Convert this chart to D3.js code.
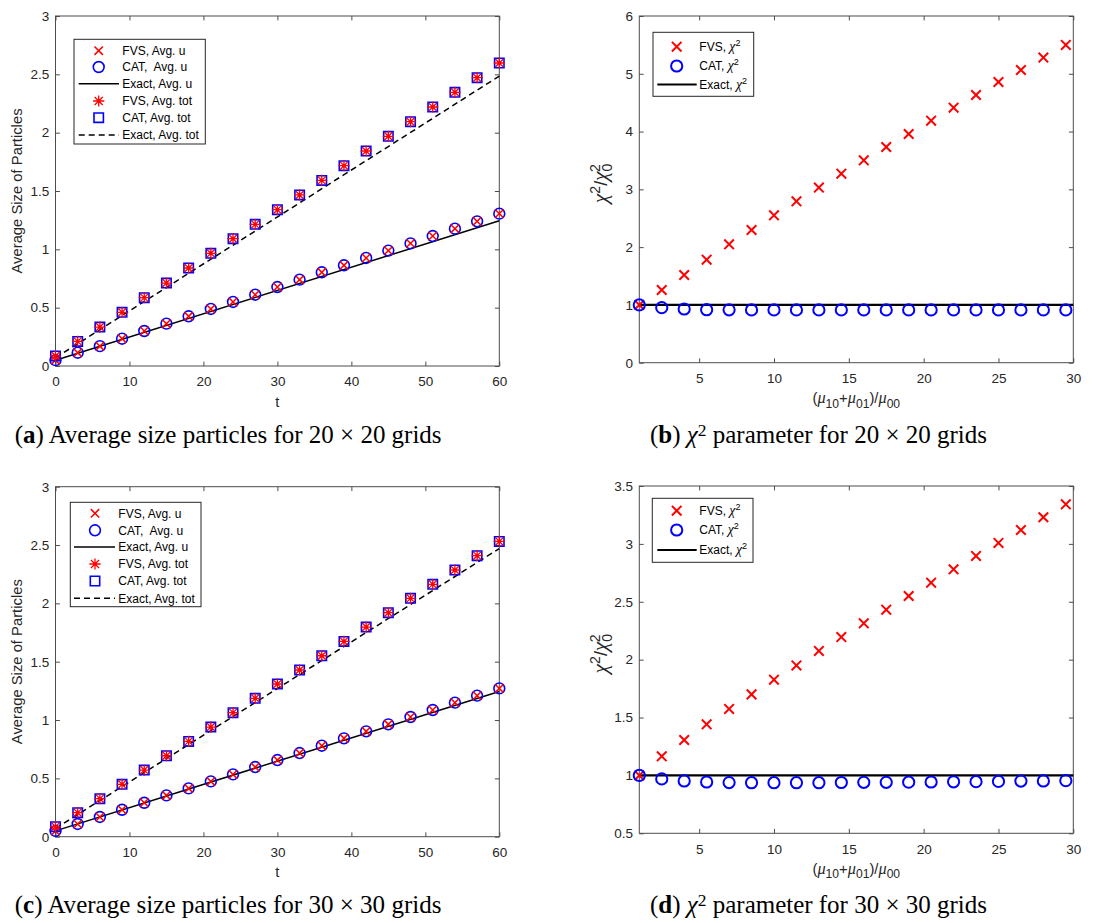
<!DOCTYPE html>
<html><head><meta charset="utf-8">
<script src="https://cdn.jsdelivr.net/npm/d3@7"></script>
<style>
body{margin:0;background:#fff}
svg{display:block;font-family:"Liberation Sans",Arial,Helvetica,sans-serif}
</style>
</head><body>
<svg id="chart" width="1094" height="923"></svg>
<script>
// ---------------- DATA ----------------
const tValues = [0,3,6,9,12,15,18,21,24,27,30,33,36,39,42,45,48,51,54,57,60];
const fvsU20  = [0.05,0.114,0.17,0.234,0.30,0.363,0.426,0.489,0.549,0.611,0.677,0.74,0.803,0.863,0.926,0.989,1.051,1.114,1.177,1.24,1.306];
const catU20  = [0.05,0.114,0.17,0.234,0.30,0.363,0.426,0.489,0.549,0.611,0.677,0.74,0.803,0.863,0.926,0.989,1.051,1.114,1.177,1.24,1.306];
const fvsTot20 = [0.086,0.211,0.334,0.46,0.586,0.711,0.84,0.966,1.091,1.214,1.34,1.466,1.591,1.717,1.843,1.969,2.094,2.22,2.346,2.471,2.597];
const catTot20 = [0.086,0.211,0.334,0.46,0.586,0.711,0.84,0.966,1.091,1.214,1.34,1.466,1.591,1.717,1.843,1.969,2.094,2.22,2.346,2.471,2.597];
const fvsU30  = [0.049,0.109,0.169,0.231,0.291,0.354,0.414,0.474,0.534,0.597,0.657,0.717,0.78,0.843,0.903,0.963,1.026,1.086,1.149,1.209,1.271];
const catU30  = [0.049,0.109,0.169,0.231,0.291,0.354,0.414,0.474,0.534,0.597,0.657,0.717,0.78,0.843,0.903,0.963,1.026,1.086,1.149,1.209,1.271];
const fvsTot30 = [0.086,0.206,0.326,0.449,0.571,0.694,0.817,0.94,1.063,1.186,1.309,1.429,1.551,1.674,1.797,1.92,2.043,2.163,2.286,2.409,2.531];
const catTot30 = [0.086,0.206,0.326,0.449,0.571,0.694,0.817,0.94,1.063,1.186,1.309,1.429,1.551,1.674,1.797,1.92,2.043,2.163,2.286,2.409,2.531];
const exactT = [0, 60];
const exactU20 = [0.05, 1.245];
const exactTot20 = [0.07, 2.485];
const exactU30 = [0.05, 1.245];
const exactTot30 = [0.07, 2.47];

const ratioValues = [1,2.5,4,5.5,7,8.5,10,11.5,13,14.5,16,17.5,19,20.5,22,23.5,25,26.5,28,29.5];
const fvsChi20 = [1.0,1.258,1.518,1.783,2.048,2.297,2.55,2.793,3.03,3.272,3.503,3.733,3.958,4.189,4.414,4.633,4.858,5.066,5.28,5.499];
const catChi20 = [1.0,0.952,0.929,0.917,0.915,0.914,0.914,0.914,0.914,0.914,0.914,0.914,0.914,0.914,0.914,0.914,0.914,0.914,0.914,0.914];
const fvsChi30 = [1.0,1.165,1.306,1.441,1.574,1.70,1.827,1.95,2.075,2.195,2.314,2.432,2.55,2.665,2.78,2.896,3.008,3.12,3.23,3.342];
const catChi30 = [1.0,0.97,0.952,0.943,0.938,0.937,0.937,0.937,0.937,0.939,0.94,0.94,0.942,0.943,0.945,0.946,0.948,0.951,0.952,0.955];
const exactRatio = [1, 30];
const exactChi = [1, 1];

const tTicks = [0,10,20,30,40,50,60];
const avgTicks = [0,0.5,1,1.5,2,2.5,3];
const ratioTicks = [5,10,15,20,25,30];
const chi20Ticks = [0,1,2,3,4,5,6];
const chi30Ticks = [0.5,1,1.5,2,2.5,3,3.5];

const avgLegend = ["FVS, Avg. u","CAT,  Avg. u","Exact, Avg. u","FVS, Avg. tot","CAT, Avg. tot","Exact, Avg. tot"];
const captionA = ["a","Average size particles for 20 \u00d7 20 grids"];
const captionC = ["c","Average size particles for 30 \u00d7 30 grids"];
const captionB = ["b","parameter for 20 \u00d7 20 grids"];
const captionD = ["d","parameter for 30 \u00d7 30 grids"];

// ---------------- DRAWING ----------------
const svg = d3.select("#chart");
const RED = "#ff0000", BLUE = "#0000ff", TXT = "#262626", AX = "#4d4d4d";
const TICKFS = 13.5, LABFS = 14.8, LEGFS = 12;
const SANS = '"Liberation Sans",Arial,Helvetica,sans-serif';
const SERIF = '"Liberation Serif","Times New Roman",serif';

function xPath(s){ return `M${-s},${-s}L${s},${s}M${-s},${s}L${s},${-s}`; }
function starPath(s){ const d=s*0.72; return `M${-s},0L${s},0M0,${-s}L0,${s}M${-d},${-d}L${d},${d}M${-d},${d}L${d},${-d}`; }
function sqPath(s){ return `M${-s},${-s}H${s}V${s}H${-s}Z`; }

function drawMarkers(g, xs, ys, x, y, type, color, size, sw){
  const pts = xs.map((v,i)=>[v, ys[i]]);
  const sel = g.append("g").selectAll(type==="circle"?"circle":"path").data(pts).join(type==="circle"?"circle":"path");
  if(type==="circle"){
    sel.attr("cx",d=>x(d[0])).attr("cy",d=>y(d[1])).attr("r",size).attr("fill","none").attr("stroke",color).attr("stroke-width",sw);
  } else {
    const p = type==="x"?xPath(size):type==="star"?starPath(size):sqPath(size);
    sel.attr("transform",d=>`translate(${x(d[0])},${y(d[1])})`).attr("d",p).attr("fill","none").attr("stroke",color).attr("stroke-width",sw);
  }
}
function drawLine(g, xs, ys, x, y, dash, sw){
  const pts = xs.map((v,i)=>[v, ys[i]]);
  g.append("path").datum(pts).attr("d", d3.line().x(d=>x(d[0])).y(d=>y(d[1])))
   .attr("fill","none").attr("stroke","#000").attr("stroke-width",sw).attr("stroke-dasharray",dash||null);
}

function frame(box, xDomain, yDomain, xTicks, yTicks){
  const g = svg.append("g");
  const x = d3.scaleLinear().domain(xDomain).range([box.left, box.right]);
  const y = d3.scaleLinear().domain(yDomain).range([box.bottom, box.top]);
  const tl = 4.4;
  const styleAxis = a => {
    a.select(".domain").remove();
    a.selectAll(".tick line").attr("stroke",AX);
    a.selectAll("text").attr("fill",TXT);
    a.attr("font-size",TICKFS).attr("font-family",SANS);
  };
  g.append("g").attr("transform",`translate(0,${box.bottom})`).call(d3.axisBottom(x).tickValues(xTicks).tickSize(-tl).tickPadding(10.9).tickFormat(d3.format(""))).call(styleAxis);
  g.append("g").attr("transform",`translate(0,${box.top})`).call(d3.axisTop(x).tickValues(xTicks).tickSize(-tl).tickFormat("")).call(styleAxis);
  g.append("g").attr("transform",`translate(${box.left},0)`).call(d3.axisLeft(y).tickValues(yTicks).tickSize(-tl).tickPadding(6.2).tickFormat(d3.format(""))).call(styleAxis);
  g.append("g").attr("transform",`translate(${box.right},0)`).call(d3.axisRight(y).tickValues(yTicks).tickSize(-tl).tickFormat("")).call(styleAxis);
  g.append("rect").attr("x",box.left).attr("y",box.top).attr("width",box.right-box.left).attr("height",box.bottom-box.top)
   .attr("fill","none").attr("stroke",AX).attr("stroke-width",1);
  const plot = svg.append("g");
  return {g, x, y, plot};
}

function avgPanel(box, fu, cu, eu, ft, ct, et, leg){
  const {g,x,y,plot} = frame(box,[0,60],[0,3],tTicks,avgTicks);
  drawLine(plot, exactT, eu, x, y, null, 1.5);
  drawLine(plot, exactT, et, x, y, "6,4", 1.5);
  drawMarkers(plot, tValues, cu, x, y, "circle", BLUE, 5.4, 1.6);
  drawMarkers(plot, tValues, fu, x, y, "x", RED, 4.2, 1.5);
  drawMarkers(plot, tValues, ct, x, y, "sq", BLUE, 4.7, 1.6);
  drawMarkers(plot, tValues, ft, x, y, "star", RED, 5.6, 1.3);
  svg.append("text").attr("x",(box.left+box.right)/2).attr("y",box.bottom+40.5).attr("text-anchor","middle")
    .attr("font-size",LABFS).attr("fill",TXT).text("t");
  svg.append("text").attr("transform",`translate(${box.left-33.5},${(box.top+box.bottom)/2}) rotate(-90)`).attr("text-anchor","middle")
    .attr("font-size",LABFS).attr("fill",TXT).text("Average Size of Particles");
  const L = svg.append("g");
  L.append("rect").attr("x",leg.x0).attr("y",leg.y0).attr("width",leg.x1-leg.x0).attr("height",leg.y1-leg.y0)
    .attr("fill","#fff").attr("stroke",TXT).attr("stroke-width",1);
  leg.rows.forEach((ry,i)=>{
    const mg = L.append("g").attr("transform",`translate(${leg.mx},${ry})`);
    if(i===0) mg.append("path").attr("d",xPath(4.2)).attr("stroke",RED).attr("stroke-width",1.5).attr("fill","none");
    if(i===1) mg.append("circle").attr("r",5.4).attr("stroke",BLUE).attr("stroke-width",1.6).attr("fill","none");
    if(i===3) mg.append("path").attr("d",starPath(5.6)).attr("stroke",RED).attr("stroke-width",1.3).attr("fill","none");
    if(i===4) mg.append("path").attr("d",sqPath(4.7)).attr("stroke",BLUE).attr("stroke-width",1.6).attr("fill","none");
    if(i===2||i===5) L.append("line").attr("x1",leg.l0).attr("x2",leg.l1).attr("y1",ry).attr("y2",ry)
        .attr("stroke","#000").attr("stroke-width",1.5).attr("stroke-dasharray",i===5?"6,4":null);
    L.append("text").attr("x",leg.tx).attr("y",ry+4.3).attr("font-size",LEGFS).attr("fill","#000")
      .style("white-space","pre").text(avgLegend[i]);
  });
}

function chiLabel(t, name){
  t.append("tspan").text(name+", ");
  t.append("tspan").style("font-family",SERIF).style("font-style","italic").attr("font-size","115%").text("\u03c7");
  t.append("tspan").attr("font-size","75%").attr("dy",-5).text("2");
}

function chiPanel(box, yDomain, yTicks, fv, cv, leg){
  const {g,x,y,plot} = frame(box,[1,30],yDomain,ratioTicks,yTicks);
  drawLine(plot, exactRatio, exactChi, x, y, null, 2.2);
  drawMarkers(plot, ratioValues, fv, x, y, "x", RED, 4.8, 2);
  drawMarkers(plot, ratioValues, cv, x, y, "circle", BLUE, 5.6, 2);
  const xl = svg.append("text").attr("x",(box.left+box.right)/2).attr("y",box.bottom+40.5).attr("text-anchor","middle")
    .attr("font-size",LABFS).attr("fill",TXT);
  const parts = [["(",0,false],["\u03bc",0,true],["10",1,false],["+",0,false],["\u03bc",0,true],["01",1,false],[")/",0,false],["\u03bc",0,true],["00",1,false]];
  let cur = 0;
  parts.forEach(([s,sub,greek])=>{
    const target = sub?4.5:0;
    const ts = xl.append("tspan").attr("dy",target-cur).text(s);
    if(sub) ts.attr("font-size","82%");
    if(greek) ts.style("font-family",SERIF).style("font-style","italic").attr("font-size","110%");
    cur = target;
  });
  const yl = svg.append("text").attr("transform",`translate(${box.left-32},${(box.top+box.bottom)/2-6}) rotate(-90)`).attr("text-anchor","middle")
    .attr("font-size",16).attr("fill",TXT);
  const yp = [["\u03c7",0,true],["2",-7,false],["/",0,false],["\u03c7",0,true],["0",4.5,false],["2",-7,false]];
  let c2 = 0;
  yp.forEach(([s,off,greek],i)=>{
    const ts = yl.append("tspan").attr("dy",off-c2).text(s);
    if(greek) ts.style("font-family",SERIF).style("font-style","italic").attr("font-size","135%");
    if(off!==0) ts.attr("font-size","88%");
    if(i===2) ts.attr("font-size","110%");
    if(i===5) ts.attr("dx",-8.5);
    c2 = off;
  });
  const L = svg.append("g");
  L.append("rect").attr("x",leg.x0).attr("y",leg.y0).attr("width",leg.x1-leg.x0).attr("height",leg.y1-leg.y0)
    .attr("fill","#fff").attr("stroke",TXT).attr("stroke-width",1);
  const names = ["FVS","CAT","Exact"];
  leg.rows.forEach((ry,i)=>{
    if(i===0) L.append("path").attr("transform",`translate(${leg.mx},${ry})`).attr("d",xPath(4.8)).attr("stroke",RED).attr("stroke-width",2).attr("fill","none");
    if(i===1) L.append("circle").attr("cx",leg.mx).attr("cy",ry).attr("r",5.6).attr("stroke",BLUE).attr("stroke-width",2).attr("fill","none");
    if(i===2) L.append("line").attr("x1",leg.l0).attr("x2",leg.l1).attr("y1",ry).attr("y2",ry).attr("stroke","#000").attr("stroke-width",2.2);
    const t = L.append("text").attr("x",leg.tx).attr("y",ry+4.3).attr("font-size",LEGFS).attr("fill","#000");
    chiLabel(t, names[i]);
  });
}

function caption(cx0, baseline, cap, greek, targetW){
  const t = svg.append("text").attr("x",cx0).attr("y",baseline).style("font-family",SERIF)
    .attr("font-size",20).attr("fill","#000");
  t.append("tspan").text("(");
  t.append("tspan").attr("font-weight","bold").text(cap[0]);
  t.append("tspan").text(") ");
  if(greek){
    t.append("tspan").style("font-style","italic").text("\u03c7");
    t.append("tspan").attr("font-size","70%").attr("dy","-0.4em").text("2");
    t.append("tspan").attr("dy","0.28em").text(" ");
  }
  t.append("tspan").style("white-space","pre").text(cap[1]);
  const w = t.node().getComputedTextLength();
  t.attr("font-size", 20*targetW/w);
}

const boxA = {left:55.5,right:499.3,top:16,bottom:366};
const boxB = {left:639.3,right:1073.3,top:16,bottom:362.7};
const boxC = {left:55.5,right:499.3,top:486.7,bottom:836.7};
const boxD = {left:639.3,right:1073.3,top:486,bottom:833.3};

avgPanel(boxA, fvsU20, catU20, exactU20, fvsTot20, catTot20, exactTot20,
  {x0:74,x1:205.3,y0:39.3,y1:144,rows:[50.7,67,83.7,101,117.7,135],mx:98.7,tx:122.3,l0:78.7,l1:119});
avgPanel(boxC, fvsU30, catU30, exactU30, fvsTot30, catTot30, exactTot30,
  {x0:70.3,x1:201,y0:502.3,y1:606.7,rows:[513.3,530.3,547,564,581,598.3],mx:95,tx:118.3,l0:74,l1:115});
chiPanel(boxB,[0,6],chi20Ticks,fvsChi20,catChi20,
  {x0:653,x1:753.7,y0:32.3,y1:96.3,rows:[46.7,66,84.5],mx:676.7,tx:699.3,l0:657.3,l1:696.7});
chiPanel(boxD,[0.5,3.5],chi30Ticks,fvsChi30,catChi30,
  {x0:652.3,x1:753,y0:498.3,y1:562.3,rows:[510.7,530,550],mx:676.7,tx:699.3,l0:657.3,l1:696.7});

caption(14.7, 443, captionA, false, 427);
caption(650, 443, captionB, true, 337);
caption(14.7, 913, captionC, false, 427);
caption(650, 913, captionD, true, 337);
</script>
</body></html>
